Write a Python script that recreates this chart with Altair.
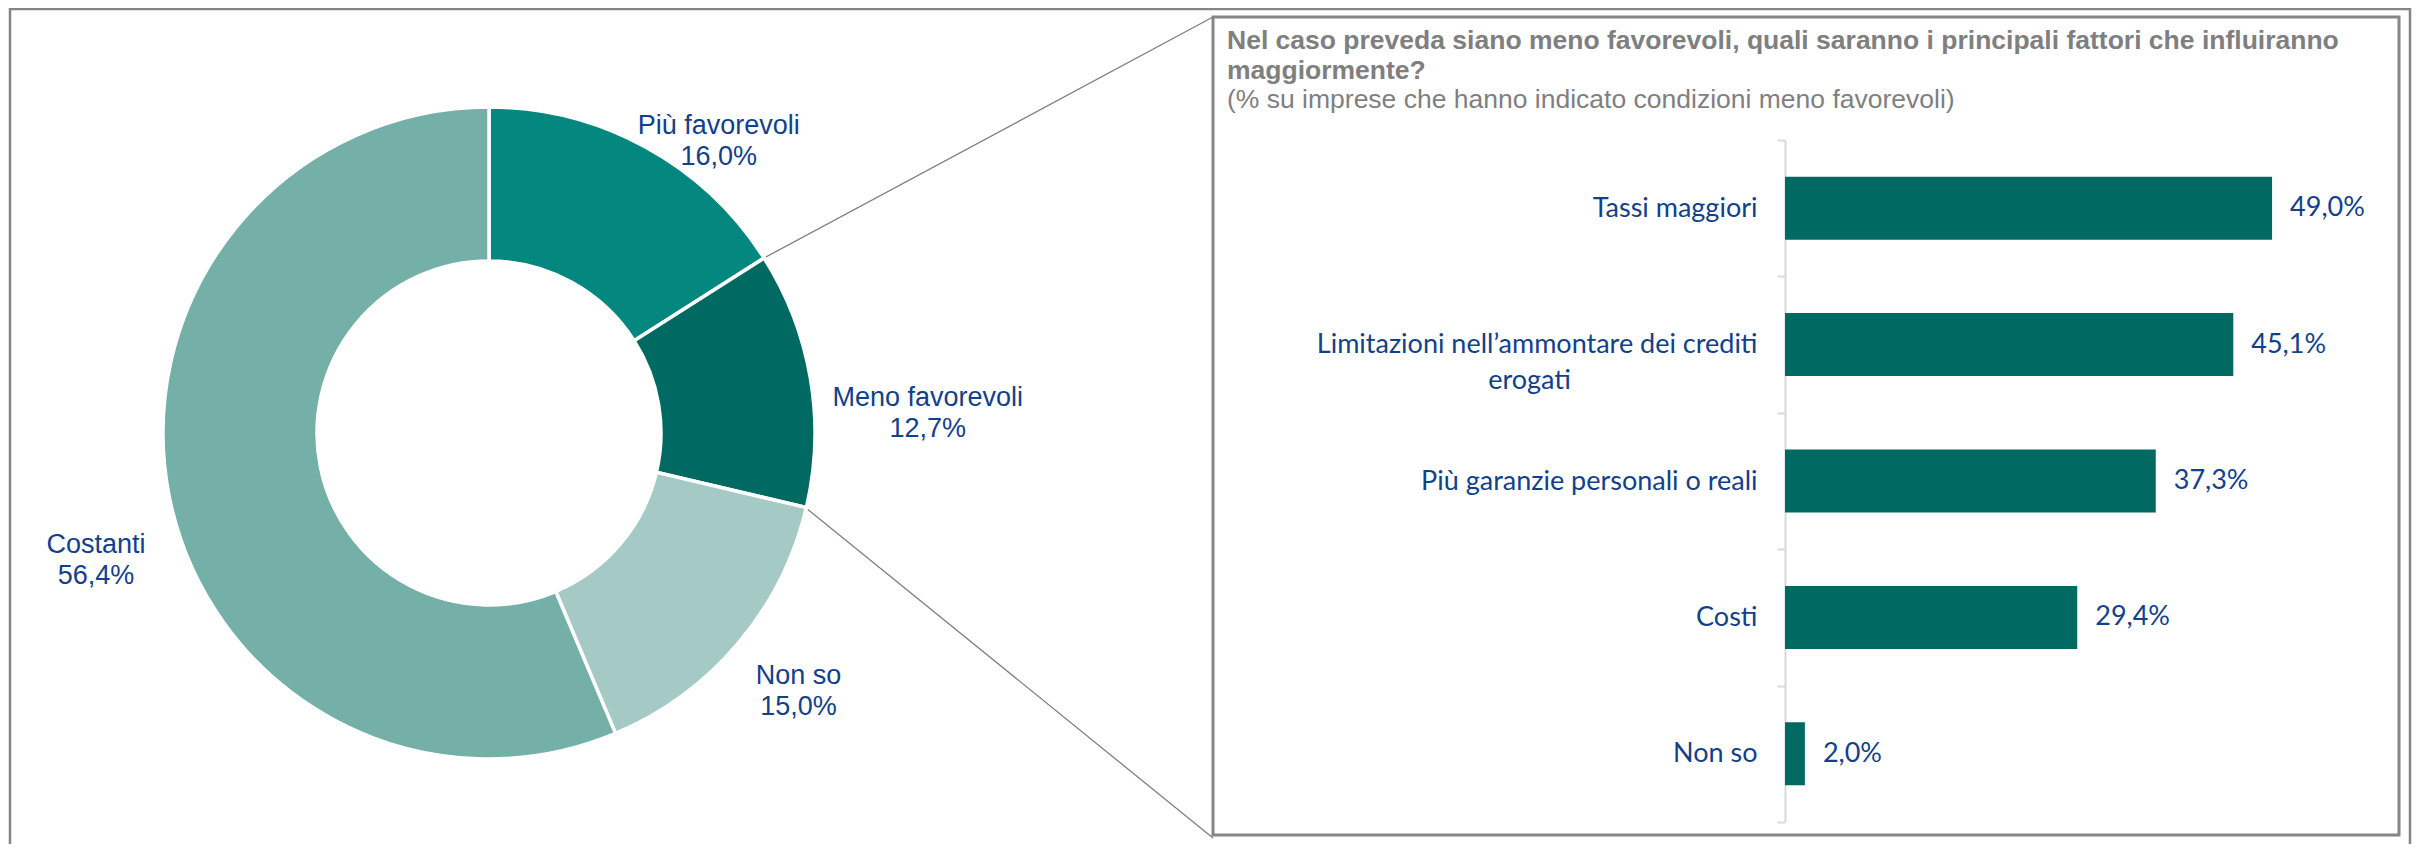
import altair as alt
import pandas as pd

# ---------------- data ----------------
pie_categories = ["Più favorevoli", "Meno favorevoli", "Non so", "Costanti"]
pie_values = [16.0, 12.7, 15.0, 56.4]
pie_colors = ["#03877E", "#006A62", "#A5CAC6", "#74AFA8"]

bar_categories = [
    "Tassi maggiori",
    "Limitazioni nell’ammontare dei crediti erogati",
    "Più garanzie personali o reali",
    "Costi",
    "Non so",
]
bar_values = [49.0, 45.1, 37.3, 29.4, 2.0]

title_lines = [
    "Nel caso preveda siano meno favorevoli, quali saranno i principali fattori che influiranno",
    "maggiormente?",
]
subtitle_line = "(% su imprese che hanno indicato condizioni meno favorevoli)"

# ---------------- styling ----------------
W, H = 2404, 836
BLUE = "#12418A"
GRAY = "#7F7F7F"
CX, CY = 481, 425          # donut centre
R_OUT, R_IN = 326, 172
AXIS_X = 1777              # left edge of bar plot
one = pd.DataFrame({"k": [0]})

pie_df = pd.DataFrame({"cat": pie_categories, "v": pie_values,
                       "ord": list(range(len(pie_categories)))})
bar_df = pd.DataFrame({"cat": bar_categories, "v": bar_values})

# ---------------- frames & connectors ----------------
outer = alt.Chart(one).mark_rect(fillOpacity=0, stroke="#858585", strokeWidth=2.5).encode(
    x=alt.value(2), x2=alt.value(2402), y=alt.value(1), y2=alt.value(860))
inner = alt.Chart(one).mark_rect(fillOpacity=0, stroke="#868686", strokeWidth=3).encode(
    x=alt.value(1205), x2=alt.value(2391), y=alt.value(9), y2=alt.value(827))
conn1 = alt.Chart(one).mark_rule(color=GRAY, strokeWidth=1.3).encode(
    x=alt.value(756), y=alt.value(250), x2=alt.value(1205), y2=alt.value(9))
conn2 = alt.Chart(one).mark_rule(color=GRAY, strokeWidth=1.3).encode(
    x=alt.value(798), y=alt.value(500), x2=alt.value(1205), y2=alt.value(830))

# ---------------- donut ----------------
arcs = alt.Chart(pie_df).mark_arc(
    innerRadius=R_IN, outerRadius=R_OUT, stroke="white", strokeWidth=3.5
).encode(
    theta=alt.Theta("v:Q", stack=True),
    color=alt.Color("cat:N", scale=alt.Scale(domain=pie_categories, range=pie_colors), legend=None),
    order=alt.Order("ord:Q"),
    x=alt.value(CX), y=alt.value(CY),
)

lbl_base = alt.Chart(pie_df).transform_joinaggregate(
    total="sum(v)"
).transform_window(
    cum="sum(v)", sort=[alt.SortField("ord")], frame=[None, 0]
).transform_calculate(
    mid="(datum.cum - datum.v / 2) / datum.total",
    lbl="datum.cat + '|' + replace(format(datum.v, '.1f'), '.', ',') + '%'",
)

label_nudges = {
    "Più favorevoli": (390, 42, 35),
    "Meno favorevoli": (440, 5, 39),
    "Non so": (400, 4, -15),
    "Costanti": (400, -1, 33),
}
pie_labels = []
for c in pie_categories:
    r, dx, dy = label_nudges[c]
    pie_labels.append(
        lbl_base.transform_filter(alt.datum.cat == c).mark_text(
            radius=r, dx=dx, dy=dy, lineBreak="|", lineHeight=31,
            font="Liberation Sans", fontSize=27, color=BLUE,
            align="center", baseline="middle",
        ).encode(
            theta=alt.Theta("mid:Q", stack=False, scale=alt.Scale(domain=[0, 1])),
            text="lbl:N",
            x=alt.value(CX), y=alt.value(CY),
        )
    )

# ---------------- bar panel ----------------
def title_text(txt, y, bold):
    return alt.Chart(pd.DataFrame({"t": [txt]})).mark_text(
        align="left", baseline="middle", font="Liberation Sans", fontSize=26.5,
        fontWeight="bold" if bold else "normal", color=GRAY,
    ).encode(x=alt.value(1219), y=alt.value(y), text="t:N")

t1 = title_text(title_lines[0], 33, True)
t2 = title_text(title_lines[1], 63, True)
t3 = title_text(subtitle_line, 92, False)

# wrapped label: second line padded with no-break spaces (ended by a zero-width
# character so the padding is not trimmed) so it sits centred under the first
first, second = bar_categories[1].rsplit(" ", 1)
pad = "\u00a0" * 27 + "\u200b"
wrap_expr = (f"datum.label == '{bar_categories[1]}' ? "
             f"['{first}', '{second}{pad}'] : datum.label")

ybar = alt.Y(
    "cat:N",
    scale=alt.Scale(domain=bar_categories, range=[132, 814], paddingInner=0, paddingOuter=0),
    axis=alt.Axis(
        title=None, orient="left", offset=-AXIS_X, grid=False,
        domainColor="#D9D9D9", domainWidth=2, tickColor="#D9D9D9", tickWidth=2,
        tickSize=8, tickBand="extent", labelFont="Lato", labelFontSize=27,
        labelColor=BLUE, labelPadding=20, labelLimit=0, labelLineHeight=36,
        labelExpr=wrap_expr, labelAlign="right", labelBaseline="middle",
    ),
)
xbar = alt.X("v:Q", scale=alt.Scale(domain=[0, 50], range=[AXIS_X, AXIS_X + 497]), axis=None)

bars = alt.Chart(bar_df).mark_bar(color="#006A62", height={"band": 0.462}).encode(x=xbar, y=ybar)
bar_text = alt.Chart(bar_df).transform_calculate(
    lbl="replace(format(datum.v, '.1f'), '.', ',') + '%'"
).mark_text(
    align="left", baseline="middle", dx=18, font="Lato", fontSize=27, color=BLUE
).encode(x=xbar, y=ybar, text="lbl:N")

chart = alt.layer(
    outer, inner, conn1, conn2, arcs, *pie_labels, t1, t2, t3, bars, bar_text
).resolve_scale(
    theta="independent"
).properties(
    width=W, height=H, padding=0, autosize=alt.AutoSizeParams(type="none")
).configure_view(stroke=None)

chart.save("out.html", embed_options={"renderer": "svg", "actions": False})
